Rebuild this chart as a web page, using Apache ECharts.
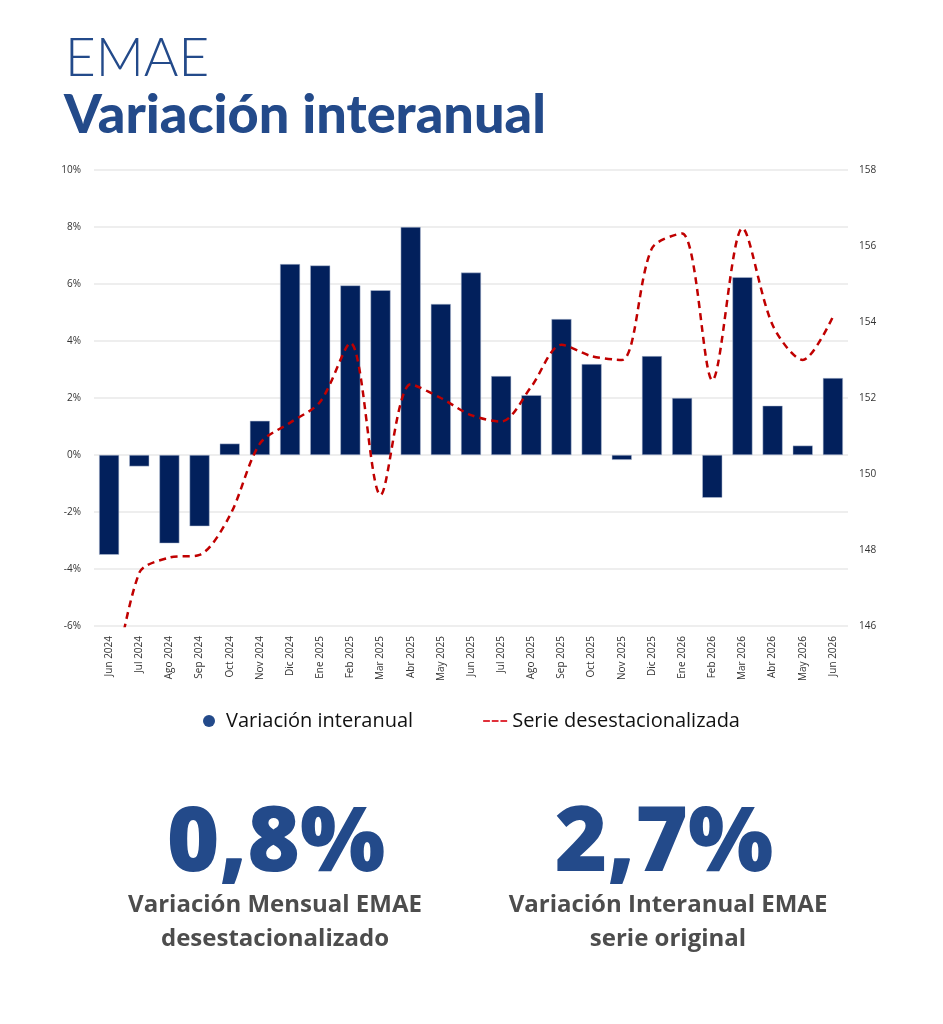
<!DOCTYPE html>
<html>
<head>
<meta charset="utf-8">
<script src="https://cdn.jsdelivr.net/npm/echarts@6/dist/echarts.min.js"></script>
<style>
html, body { margin: 0; padding: 0; background: #fff; }
#main { width: 943px; height: 1024px; }
</style>
</head>
<body>
<div id="main"></div>
<script>
var months = ['Jun 2024', 'Jul 2024', 'Ago 2024', 'Sep 2024', 'Oct 2024', 'Nov 2024', 'Dic 2024',
    'Ene 2025', 'Feb 2025', 'Mar 2025', 'Abr 2025', 'May 2025', 'Jun 2025', 'Jul 2025', 'Ago 2025',
    'Sep 2025', 'Oct 2025', 'Nov 2025', 'Dic 2025', 'Ene 2026', 'Feb 2026', 'Mar 2026', 'Abr 2026',
    'May 2026', 'Jun 2026'];

// variación interanual (%)
var interanual = [-3.5, -0.4, -3.1, -2.5, 0.4, 1.2, 6.7, 6.65, 5.95, 5.78, 8.0, 5.3, 6.4,
    2.77, 2.1, 4.77, 3.19, -0.17, 3.47, 2.0, -1.5, 6.24, 1.73, 0.33, 2.7];

// serie desestacionalizada (índice)
var desest = [143.7, 147.4, 147.8, 147.87, 148.9, 150.8, 151.35, 151.9, 153.45, 149.45, 152.36,
    152.0, 151.55, 151.38, 152.3, 153.4, 153.1, 153.0, 155.94, 156.33, 152.47, 156.47, 153.92,
    153.0, 154.14];

var mensualTxt = '0,8%';
var interanualTxt = '2,7%';

var blue = '#234a8a';
var navy = '#02205c';
var red = '#c00000';
var font = 'Open Sans';

var dom = document.getElementById('main');
var myChart = echarts.init(dom, null, { renderer: 'canvas' });

var option = {
    backgroundColor: '#fff',
    animation: false,
    textStyle: { fontFamily: font },
    graphic: [
        { type: 'text', left: 65, top: 32, style: { text: 'EMAE', font: '300 53px Lato', fill: blue } },
        { type: 'text', left: 64, top: 89, style: { text: 'Variación interanual', font: '900 54px Lato', fill: blue } },
        { type: 'text', x: 276, y: 800, style: { text: mensualTxt, font: '800 90px "Open Sans"', fill: blue, align: 'center' } },
        { type: 'text', x: 664, y: 800, style: { text: interanualTxt, font: '800 90px "Open Sans"', fill: blue, align: 'center' } },
        { type: 'text', x: 275, y: 888, style: { text: 'Variación Mensual EMAE\ndesestacionalizado', font: 'bold 24px "Open Sans"', lineHeight: 34, fill: '#4d4d4d', align: 'center' } },
        { type: 'text', x: 668, y: 888, style: { text: 'Variación Interanual EMAE\nserie original', font: 'bold 24px "Open Sans"', lineHeight: 34, fill: '#4d4d4d', align: 'center' } }
    ],
    legend: {
        top: 706,
        left: 'center',
        itemGap: 70,
        itemWidth: 24,
        itemHeight: 12,
        symbolKeepAspect: true,
        textStyle: { fontSize: 20, color: '#111', fontFamily: font },
        data: [
            { name: 'Variación interanual', icon: 'circle', itemStyle: { color: blue, borderWidth: 0 } },
            { name: 'Serie desestacionalizada', icon: 'path://M0,0h7v2h-7z M9,0h7v2h-7z M18,0h7v2h-7z', itemStyle: { color: '#e0303a', borderWidth: 0 } }
        ]
    },
    grid: { left: 94, right: 95, top: 170, bottom: 398 },
    xAxis: {
        type: 'category',
        data: months,
        axisLine: { show: false },
        axisTick: { show: false },
        axisLabel: { rotate: 90, fontSize: 10, color: '#333', margin: 10, interval: 0 }
    },
    yAxis: [
        {
            type: 'value', min: -6, max: 10, interval: 2,
            axisLine: { show: false }, axisTick: { show: false },
            axisLabel: { formatter: '{value}%', fontSize: 10, color: '#333', margin: 13 },
            splitLine: { lineStyle: { color: '#e8e8e8', width: 1.5 } }
        },
        {
            type: 'value', min: 146, max: 158, interval: 2,
            axisLine: { show: false }, axisTick: { show: false },
            axisLabel: { fontSize: 10, color: '#333', margin: 11 },
            splitLine: { show: false }
        }
    ],
    series: [
        {
            name: 'Variación interanual',
            type: 'bar',
            data: interanual,
            barWidth: 20,
            itemStyle: { color: navy, borderColor: '#b9c3d6', borderWidth: 0.5 }
        },
        {
            name: 'Serie desestacionalizada',
            type: 'line',
            yAxisIndex: 1,
            data: desest,
            smooth: 0.3,
            symbol: 'none',
            clip: true,
            itemStyle: { color: red },
            lineStyle: { color: red, width: 2.5, type: [7, 5] }
        }
    ]
};

myChart.setOption(option);
</script>
</body>
</html>
